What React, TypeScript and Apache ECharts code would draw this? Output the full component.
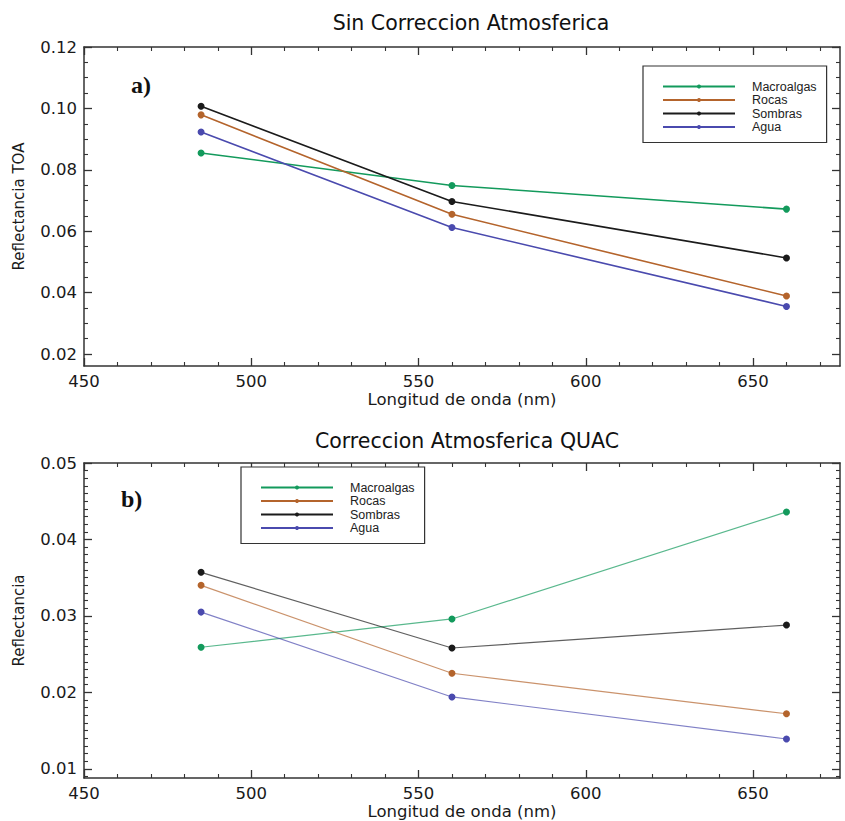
import React, { useEffect, useRef } from "react";
import * as echarts from "echarts";

const wavelengths = [485, 560, 660];
const seriesNames = ["Macroalgas", "Rocas", "Sombras", "Agua"];
const colors = ["#139a5c", "#b4642c", "#1b1b1b", "#4a4aae"];

// a) Sin Correccion Atmosferica (Reflectancia TOA)
const toaMacroalgas = [0.0855, 0.0749, 0.0672];
const toaRocas = [0.0979, 0.0655, 0.0389];
const toaSombras = [0.1007, 0.0697, 0.0513];
const toaAgua = [0.0923, 0.0612, 0.0355];

// b) Correccion Atmosferica QUAC (Reflectancia)
const quacMacroalgas = [0.0259, 0.0296, 0.0436];
const quacRocas = [0.034, 0.0225, 0.0172];
const quacSombras = [0.0357, 0.0258, 0.0288];
const quacAgua = [0.0305, 0.0194, 0.0139];

const xMajor = [450, 500, 550, 600, 650];
const xMinor = [460, 470, 480, 490, 510, 520, 530, 540, 560, 570, 580, 590, 610, 620, 630, 640, 660, 670];
const yTopMajor = [0.02, 0.04, 0.06, 0.08, 0.1, 0.12];
const yTopMinor = [0.025, 0.03, 0.035, 0.045, 0.05, 0.055, 0.065, 0.07, 0.075, 0.085, 0.09, 0.095, 0.105, 0.11, 0.115];
const yBotMajor = [0.01, 0.02, 0.03, 0.04, 0.05];
const yBotMinor: number[] = [];
for (let i = 9; i <= 50; i++) {
  if (i % 10 !== 0) yBotMinor.push(+(i / 1000).toFixed(3));
}

const FONT = "DejaVu Sans";
const LEGEND_FONT = "Liberation Sans";
const AXIS_COLOR = "#333";

function xAxes(grid: number, name: string) {
  const base = { gridIndex: grid, type: "value", min: 450, max: 676, splitLine: { show: false } };
  return [
    {
      ...base,
      position: "bottom",
      axisLine: { show: true, lineStyle: { color: AXIS_COLOR, width: 1.5 } },
      axisTick: { show: true, inside: true, length: 8, customValues: xMajor, lineStyle: { color: AXIS_COLOR, width: 1.3 } },
      axisLabel: { show: true, customValues: xMajor, fontFamily: FONT, fontSize: 16.5, color: "#1a1a1a", margin: 7 },
      name,
      nameLocation: "middle",
      nameGap: 25,
      nameTextStyle: { fontFamily: FONT, fontSize: 16.5, color: "#1a1a1a" },
    },
    {
      ...base,
      position: "bottom",
      axisLine: { show: false },
      axisTick: { show: true, inside: true, length: 4, customValues: xMinor, lineStyle: { color: AXIS_COLOR, width: 1.1 } },
      axisLabel: { show: false },
    },
    {
      ...base,
      position: "top",
      axisLine: { show: true, lineStyle: { color: AXIS_COLOR, width: 1.5 } },
      axisTick: { show: true, inside: true, length: 8, customValues: xMajor, lineStyle: { color: AXIS_COLOR, width: 1.3 } },
      axisLabel: { show: false },
    },
    {
      ...base,
      position: "top",
      axisLine: { show: false },
      axisTick: { show: true, inside: true, length: 4, customValues: xMinor, lineStyle: { color: AXIS_COLOR, width: 1.1 } },
      axisLabel: { show: false },
    },
  ];
}

function yAxes(grid: number, min: number, max: number, major: number[], minor: number[], name: string) {
  const base = { gridIndex: grid, type: "value", min, max, splitLine: { show: false } };
  return [
    {
      ...base,
      position: "left",
      axisLine: { show: true, lineStyle: { color: AXIS_COLOR, width: 1.5 } },
      axisTick: { show: true, inside: true, length: 8, customValues: major, lineStyle: { color: AXIS_COLOR, width: 1.3 } },
      axisLabel: {
        show: true,
        customValues: major,
        fontFamily: FONT,
        fontSize: 16.5,
        color: "#1a1a1a",
        margin: 7,
        formatter: (v: number) => v.toFixed(2),
      },
      name,
      nameLocation: "middle",
      nameGap: 58,
      nameTextStyle: { fontFamily: FONT, fontSize: 15, color: "#1a1a1a" },
    },
    {
      ...base,
      position: "left",
      axisLine: { show: false },
      axisTick: { show: true, inside: true, length: 4, customValues: minor, lineStyle: { color: AXIS_COLOR, width: 1.1 } },
      axisLabel: { show: false },
    },
    {
      ...base,
      position: "right",
      axisLine: { show: true, lineStyle: { color: AXIS_COLOR, width: 1.5 } },
      axisTick: { show: true, inside: true, length: 8, customValues: major, lineStyle: { color: AXIS_COLOR, width: 1.3 } },
      axisLabel: { show: false },
    },
    {
      ...base,
      position: "right",
      axisLine: { show: false },
      axisTick: { show: true, inside: true, length: 4, customValues: minor, lineStyle: { color: AXIS_COLOR, width: 1.1 } },
      axisLabel: { show: false },
    },
  ];
}

function makeSeries(values: number[][], axisIndex: number, lineOpacity: number, lineWidth: number) {
  return values.map((vals, i) => ({
    name: seriesNames[i],
    type: "line",
    xAxisIndex: axisIndex,
    yAxisIndex: axisIndex,
    data: vals.map((v, j) => [wavelengths[j], v]),
    symbol: "circle",
    symbolSize: 7,
    itemStyle: { color: colors[i] },
    lineStyle: { color: colors[i], width: lineWidth, opacity: lineOpacity },
  }));
}

function legend(left: number, top: number) {
  return {
    orient: "vertical",
    left,
    top,
    data: seriesNames,
    itemWidth: 72,
    itemHeight: 5,
    itemGap: 0.5,
    padding: [14, 10, 9, 19],
    borderColor: "#333",
    borderWidth: 1.2,
    borderRadius: 0,
    backgroundColor: "#fff",
    textStyle: { fontFamily: LEGEND_FONT, fontSize: 12.5, lineHeight: 11, color: "#222", padding: [0, 0, 0, 12] },
  };
}

export default function App() {
  const ref = useRef<HTMLDivElement>(null);
  useEffect(() => {
    if (!ref.current) return;
    const chart = echarts.init(ref.current, undefined, { renderer: "svg" });
    chart.setOption({
      animation: false,
      backgroundColor: "#fff",
      title: [
        {
          text: "Sin Correccion Atmosferica",
          left: 466,
          top: 7,
          textAlign: "center",
          textStyle: { fontFamily: FONT, fontSize: 20.5, fontWeight: "normal", color: "#111" },
        },
        {
          text: "Correccion Atmosferica QUAC",
          left: 462,
          top: 425,
          textAlign: "center",
          textStyle: { fontFamily: FONT, fontSize: 20.5, fontWeight: "normal", color: "#111" },
        },
      ],
      grid: [
        { left: 84, top: 47, width: 756, height: 319 },
        { left: 84, top: 463, width: 756, height: 316 },
      ],
      xAxis: [...xAxes(0, "Longitud de onda (nm)"), ...xAxes(1, "Longitud de onda (nm)")],
      yAxis: [
        ...yAxes(0, 0.0161, 0.12, yTopMajor, yTopMinor, "Reflectancia TOA"),
        ...yAxes(1, 0.0088, 0.05, yBotMajor, yBotMinor, "Reflectancia"),
      ],
      legend: [legend(643, 66), legend(241, 467)],
      series: [
        ...makeSeries([toaMacroalgas, toaRocas, toaSombras, toaAgua], 0, 1, 1.6),
        ...makeSeries([quacMacroalgas, quacRocas, quacSombras, quacAgua], 4, 0.7, 1.2),
      ],
      graphic: [
        {
          type: "text",
          left: 131,
          top: 73,
          style: { text: "a)", font: "bold 24px 'Liberation Serif'", fill: "#111" },
        },
        {
          type: "text",
          left: 121,
          top: 487,
          style: { text: "b)", font: "bold 24px 'Liberation Serif'", fill: "#111" },
        },
      ],
    });
    return () => chart.dispose();
  }, []);
  return <div ref={ref} style={{ position: "absolute", left: 0, top: 0, width: 845, height: 821 }} />;
}
